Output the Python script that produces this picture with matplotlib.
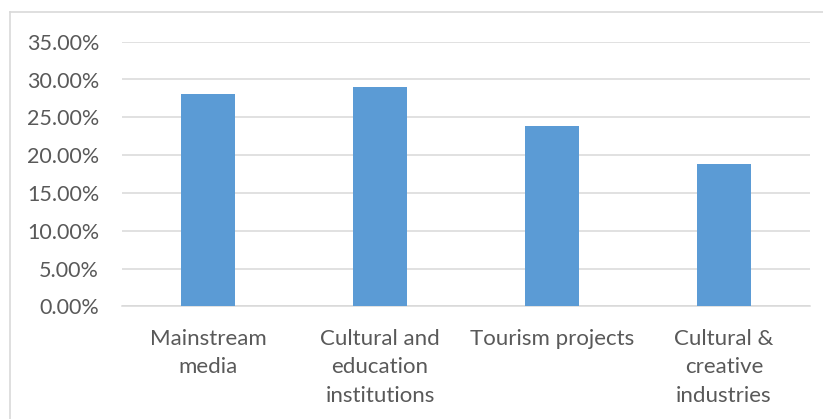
import matplotlib
matplotlib.use("Agg")
import matplotlib.pyplot as plt
from matplotlib.ticker import PercentFormatter, MultipleLocator
from matplotlib.lines import Line2D

categories = [
    "Mainstream\nmedia",
    "Cultural and\neducation\ninstitutions",
    "Tourism projects",
    "Cultural &\ncreative\nindustries",
]
shares = [28.1, 29.0, 23.9, 18.8]

plt.rcParams["font.family"] = ["Lato", "DejaVu Sans"]

fig = plt.figure(figsize=(8.23, 4.19), dpi=100)
ax = fig.add_axes([122 / 823, 1 - 306.3 / 419, (810 - 122) / 823, (306.3 - 41.7) / 419])

x = range(len(categories))
ax.bar(x, shares, width=0.313, color="#5B9BD5", zorder=3)

ax.set_xlim(-0.5, len(categories) - 0.5)
ax.set_ylim(0, 35)
ax.yaxis.set_major_locator(MultipleLocator(5))
ax.yaxis.set_major_formatter(PercentFormatter(decimals=2))
ax.grid(axis="y", color="#D9D9D9", linewidth=1.1, zorder=0)

for side in ("top", "right", "left"):
    ax.spines[side].set_visible(False)
ax.spines["bottom"].set_color("#D9D9D9")
ax.spines["bottom"].set_linewidth(1.1)

ax.set_xticks(list(x))
ax.set_xticklabels(categories, linespacing=1.56)
ax.tick_params(axis="both", length=0, colors="#595959")
ax.tick_params(axis="x", pad=16, labelsize=16)
ax.tick_params(axis="y", pad=16.5, labelsize=15.5)

# chart area outline
fig.add_artist(Line2D([10 / 823, 1.0], [1 - 12 / 419, 1 - 12 / 419],
                      transform=fig.transFigure, color="#D9D9D9", linewidth=1.2))
fig.add_artist(Line2D([10 / 823, 10 / 823], [0.0, 1 - 12 / 419],
                      transform=fig.transFigure, color="#D9D9D9", linewidth=1.2))

fig.savefig("out.png", dpi=100, facecolor="white")
